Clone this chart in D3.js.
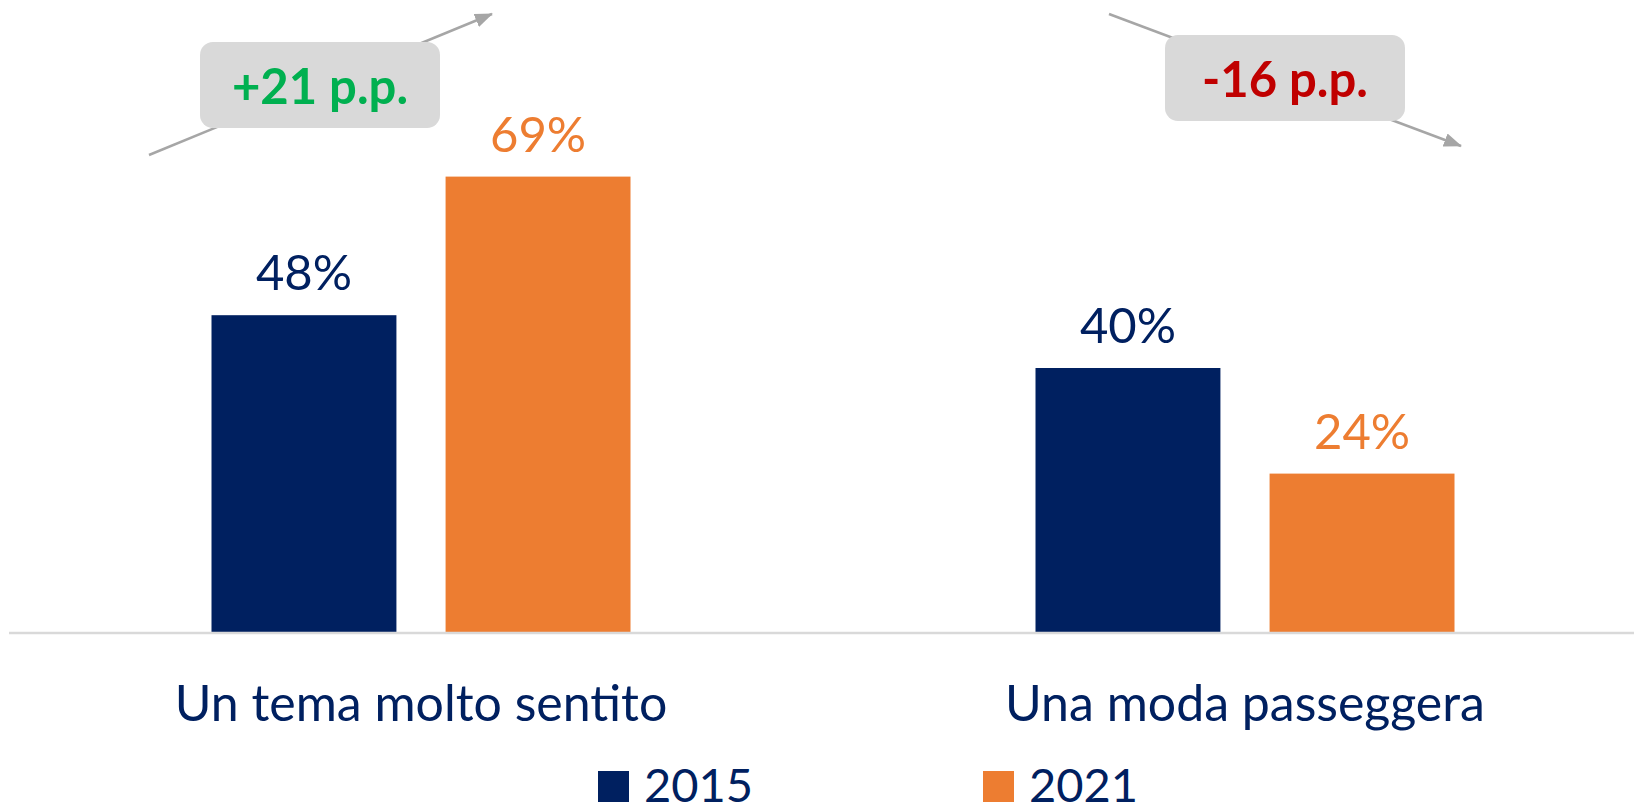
<!DOCTYPE html>
<html>
<head>
<meta charset="utf-8">
<script src="https://cdn.jsdelivr.net/npm/d3@7"></script>
<style>
  html, body { margin: 0; padding: 0; background: #fff; }
  svg { display: block; font-family: "Source Sans Pro", Lato, "Liberation Sans", sans-serif; }
</style>
</head>
<body>
<svg id="chart" width="1634" height="812"></svg>
<script>

  var categories = ['Un tema molto sentito', 'Una moda passeggera'];
  var years = ['2015', '2021'];
  var values2015 = [48, 40];
  var values2021 = [69, 24];

  var colors = { '2015': '#002060', '2021': '#ed7d31' };
  var deltaColor = function (d) { return d >= 0 ? '#00b050' : '#c00000'; };

  var W = 1634, H = 812;
  var baseY = 632;

  var svg = d3.select('#chart');

  var x0 = d3.scaleBand()
    .domain(categories)
    .range([9, 1657])
    .padding(0);

  // bars sit in the middle 419px of each 824px group
  var x1 = d3.scaleBand()
    .domain(years)
    .range([202.5, 621.5])
    .paddingInner(0.21)
    .paddingOuter(0);

  var y = d3.scaleLinear()
    .domain([0, 100])
    .range([baseY, baseY - 660]);

  var rows = categories.map(function (c, i) {
    return { cat: c, vals: [
      { year: '2015', v: values2015[i] },
      { year: '2021', v: values2021[i] }
    ] };
  });

  var defs = svg.append('defs');
  defs.append('marker')
      .attr('id', 'head')
      .attr('markerUnits', 'userSpaceOnUse')
      .attr('viewBox', '0 0 18 14')
      .attr('refX', 17)
      .attr('refY', 7)
      .attr('markerWidth', 18)
      .attr('markerHeight', 14)
      .attr('orient', 'auto')
    .append('path')
      .attr('d', 'M0,0 L18,7 L0,14 Z')
      .attr('fill', '#a6a6a6');

  // where the change boxes sit, relative to each group centre
  var notes = [
    { dx: -101, box: [42, 128], line: [[-272, 155], [71, 14]] },
    { dx: 40, box: [35, 121], line: [[-136, 14], [216, 146]] }
  ];

  var groups = svg.selectAll('g.group')
    .data(rows)
    .enter()
    .append('g')
      .attr('class', 'group')
      .attr('transform', function (d) { return 'translate(' + x0(d.cat) + ',0)'; });

  svg.append('line')
    .attr('x1', 9).attr('x2', W)
    .attr('y1', baseY + 1).attr('y2', baseY + 1)
    .attr('stroke', '#d9d9d9')
    .attr('stroke-width', 2.5);

  groups.selectAll('rect')
    .data(function (d) { return d.vals; })
    .enter()
    .append('rect')
      .attr('x', function (d) { return x1(d.year); })
      .attr('y', function (d) { return y(d.v); })
      .attr('width', x1.bandwidth())
      .attr('height', function (d) { return y(0) - y(d.v); })
      .attr('fill', function (d) { return colors[d.year]; });

  groups.selectAll('text.val')
    .data(function (d) { return d.vals; })
    .enter()
    .append('text')
      .attr('class', 'val')
      .attr('x', function (d) { return x1(d.year) + x1.bandwidth() / 2; })
      .attr('y', function (d) { return y(d.v) - 25; })
      .attr('text-anchor', 'middle')
      .attr('font-size', 49)
      .attr('fill', function (d) { return colors[d.year]; })
      .text(function (d) { return d.v + '%'; });

  svg.selectAll('text.cat')
    .data(categories)
    .enter()
    .append('text')
      .attr('class', 'cat')
      .attr('x', function (d) { return x0(d) + x0.bandwidth() / 2; })
      .attr('y', 721)
      .attr('text-anchor', 'middle')
      .attr('font-size', 50)
      .attr('fill', '#002060')
      .text(function (d) { return d; });

  // change annotations
  rows.forEach(function (r, i) {
    var cx = x0(r.cat) + x0.bandwidth() / 2;
    var n = notes[i];
    var delta = r.vals[1].v - r.vals[0].v;
    var g = svg.append('g').attr('class', 'note');

    g.append('line')
      .attr('x1', cx + n.line[0][0]).attr('y1', n.line[0][1])
      .attr('x2', cx + n.line[1][0]).attr('y2', n.line[1][1])
      .attr('stroke', '#a6a6a6')
      .attr('stroke-width', 2.5)
      .attr('marker-end', 'url(#head)');

    g.append('rect')
      .attr('x', cx + n.dx - 120)
      .attr('y', n.box[0])
      .attr('width', 240)
      .attr('height', n.box[1] - n.box[0])
      .attr('rx', 13)
      .attr('fill', '#d9d9d9');

    g.append('text')
      .attr('x', cx + n.dx)
      .attr('y', n.box[1] - 24)
      .attr('text-anchor', 'middle')
      .attr('font-size', 49)
      .attr('font-weight', 'bold')
      .attr('fill', deltaColor(delta))
      .text((delta >= 0 ? '+' : '') + delta + ' p.p.');
  });

  // legend
  var legX = [598, 983];
  var leg = svg.selectAll('g.leg')
    .data(years)
    .enter()
    .append('g')
      .attr('class', 'leg')
      .attr('transform', function (d, i) { return 'translate(' + legX[i] + ',771)'; });

  leg.append('rect')
    .attr('width', 31)
    .attr('height', 31)
    .attr('fill', function (d) { return colors[d]; });

  leg.append('text')
    .attr('x', 46)
    .attr('y', 31)
    .attr('font-size', 47)
    .attr('fill', '#002060')
    .text(function (d) { return d; });

</script>
</body>
</html>
